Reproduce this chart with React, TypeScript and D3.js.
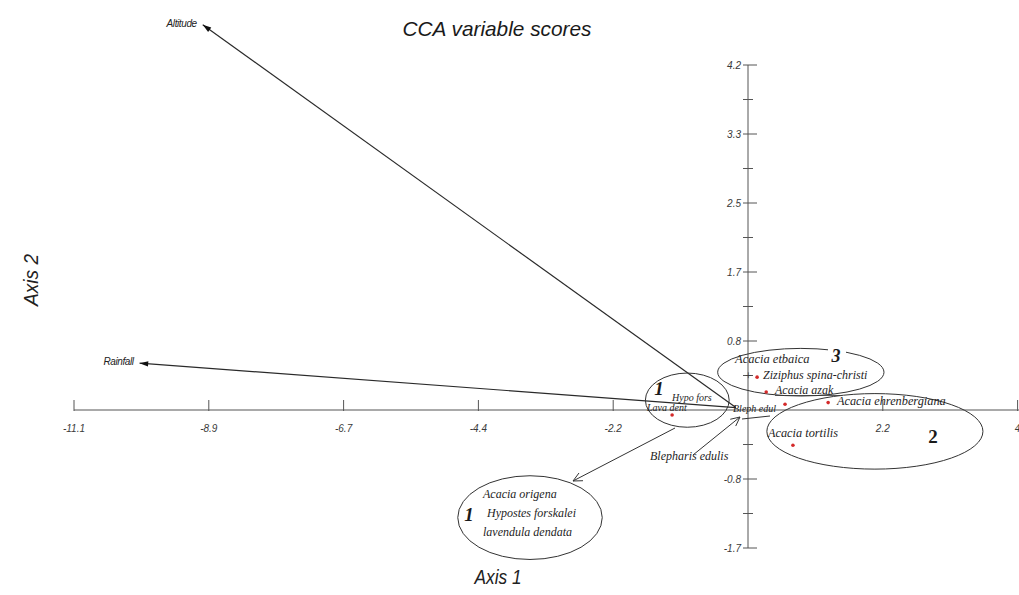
import React from "react";
import * as d3 from "d3";

const width = 1019;
const height = 595;

// axis ticks (labels are rounded as in the original output)
const xTickValues = [-11.1, -8.88, -6.66, -4.44, -2.22, 2.22, 4.44];
const xTickLabels = ["-11.1", "-8.9", "-6.7", "-4.4", "-2.2", "2.2", "4"];
const yTickValues = [4.2, 3.36, 2.52, 1.68, 0.84, -0.84, -1.68];
const yTickLabels = ["4.2", "3.3", "2.5", "1.7", "0.8", "-0.8", "-1.7"];
const yMinorTicks = [3.78, 2.94, 2.1, 1.26, 0.42, -0.42, -1.26];

// environmental variable arrows
const variables = ["Altitude", "Rainfall"];
const varX = [-8.98, -10.02];
const varY = [4.69, 0.57];

// species scores
const species = ["Lava dent", "Ziziphus spina-christi", "Acacia azak", "Acacia ehrenbergiana", "Acacia tortilis", "Bleph edul"];
const spX = [-1.25, 0.15, 0.3, 1.32, 0.74, 0.61];
const spY = [-0.06, 0.4, 0.22, 0.09, -0.43, 0.07];

// groups drawn round the species
const groups = ["1", "3", "2", "1"];
const groupCx = [-1.0, 0.87, 2.09, -3.59];
const groupCy = [0.12, 0.46, -0.26, -1.31];
const groupRx = [0.69, 1.37, 1.78, 1.19];
const groupRy = [0.33, 0.29, 0.46, 0.51];

const x = d3.scaleLinear().domain([-11.1, 4.44]).range([74, 1017.6]);
const y = d3.scaleLinear().domain([-1.68, 4.2]).range([548, 65]);

const sans = "'Liberation Sans', Arial, sans-serif";
const serif = "'Liberation Serif', 'Times New Roman', serif";
const axisCol = "#555";
const ink = "#2a2a2a";

function Arrow({ x1, y1, x2, y2, size = 9 }: any) {
  const a = Math.atan2(y2 - y1, x2 - x1);
  const p1 = [x2 - size * Math.cos(a - 0.3), y2 - size * Math.sin(a - 0.3)];
  const p2 = [x2 - size * Math.cos(a + 0.3), y2 - size * Math.sin(a + 0.3)];
  return (
    <g>
      <line x1={x1} y1={y1} x2={x2} y2={y2} stroke={ink} strokeWidth={1.2} />
      <path d={`M${x2},${y2}L${p1[0]},${p1[1]}L${p2[0]},${p2[1]}Z`} fill="#111" />
    </g>
  );
}

function OpenArrow({ x1, y1, x2, y2, size = 10 }: any) {
  const a = Math.atan2(y2 - y1, x2 - x1);
  const p1 = [x2 - size * Math.cos(a - 0.45), y2 - size * Math.sin(a - 0.45)];
  const p2 = [x2 - size * Math.cos(a + 0.45), y2 - size * Math.sin(a + 0.45)];
  return (
    <g stroke="#333" strokeWidth={1} fill="none">
      <line x1={x1} y1={y1} x2={x2} y2={y2} />
      <path d={`M${p1[0]},${p1[1]}L${x2},${y2}L${p2[0]},${p2[1]}`} />
    </g>
  );
}

export default function App() {
  const x0 = x(0);
  const y0 = y(0);
  const ox = x(-0.2);
  const oy = y(0.03);
  const spText = { fontFamily: serif, fontStyle: "italic", fill: "#1e1e1e" } as any;

  return (
    <svg width={width} height={height} style={{ position: "absolute", left: 0, top: 0, background: "#fff" }}>
      <text x={497} y={36} textAnchor="middle" fontFamily={sans} fontStyle="italic" fontSize={21}
        textLength={189} lengthAdjust="spacingAndGlyphs" fill="#1a1a1a">CCA variable scores</text>

      {/* x axis */}
      <line x1={x(-11.1)} x2={width} y1={y0} y2={y0} stroke={axisCol} strokeWidth={1} />
      {xTickValues.map((v, i) => (
        <g key={i}>
          <line x1={x(v)} x2={x(v)} y1={y0 - 10} y2={y0 + 1} stroke={axisCol} />
          <text x={x(v)} y={y0 + 22} textAnchor="middle" fontFamily={sans} fontStyle="italic" fontSize={10} fill="#3a3a3a">{xTickLabels[i]}</text>
        </g>
      ))}

      {/* y axis */}
      <line x1={x0} x2={x0} y1={y(4.2)} y2={y(-1.68)} stroke={axisCol} strokeWidth={1} />
      {yTickValues.map((v, i) => (
        <g key={i}>
          <line x1={x0 - 5} x2={x0 + 9} y1={y(v)} y2={y(v)} stroke={axisCol} />
          <text x={x0 - 7} y={y(v) + 4} textAnchor="end" fontFamily={sans} fontStyle="italic" fontSize={10} fill="#3a3a3a">{yTickLabels[i]}</text>
        </g>
      ))}
      {yMinorTicks.map((v, i) => (
        <line key={i} x1={x0 - 5} x2={x0 + 5} y1={y(v)} y2={y(v)} stroke={axisCol} />
      ))}

      <text x={498} y={584} textAnchor="middle" fontFamily={sans} fontStyle="italic" fontSize={20}
        textLength={47} lengthAdjust="spacingAndGlyphs" fill="#222">Axis 1</text>
      <text transform="translate(38,280) rotate(-90)" textAnchor="middle" fontFamily={sans} fontStyle="italic" fontSize={20}
        textLength={52} lengthAdjust="spacingAndGlyphs" fill="#222">Axis 2</text>

      {/* variable arrows */}
      {variables.map((v, i) => (
        <g key={v}>
          <Arrow x1={ox} y1={oy} x2={x(varX[i])} y2={y(varY[i])} />
          <text x={x(varX[i]) - 6} y={y(varY[i]) + 2} textAnchor="end" fontFamily={sans} fontStyle="italic" fontSize={10}
            letterSpacing={-0.4} fill="#222">{v}</text>
        </g>
      ))}

      {/* group ellipses */}
      {groups.map((g, i) => (
        <ellipse key={i} cx={x(groupCx[i])} cy={y(groupCy[i])} rx={groupRx[i] * 60.7} ry={groupRy[i] * 82.1}
          fill="none" stroke="#333" strokeWidth={1} />
      ))}
      <rect x={828} y={343} width={18} height={20} fill="#fff" />
      <text x={659} y={395} textAnchor="middle" fontFamily={serif} fontStyle="italic" fontWeight="bold" fontSize={19} fill="#1a1a1a">{groups[0]}</text>
      <text x={836} y={362} textAnchor="middle" fontFamily={serif} fontStyle="italic" fontWeight="bold" fontSize={18} fill="#1a1a1a">{groups[1]}</text>
      <text x={933} y={443} textAnchor="middle" fontFamily={serif} fontWeight="bold" fontSize={19} fill="#1a1a1a">{groups[2]}</text>
      <text x={469} y={521} textAnchor="middle" fontFamily={serif} fontStyle="italic" fontWeight="bold" fontSize={19} fill="#1a1a1a">{groups[3]}</text>

      {/* species points */}
      {species.map((s, i) => (
        <circle key={s} cx={x(spX[i])} cy={y(spY[i])} r={1.8} fill="#d42a2a" />
      ))}

      {/* species labels */}
      <text x={672} y={401} fontSize={10} {...spText}>Hypo fors</text>
      <text x={647} y={411} fontSize={10} {...spText}>{species[0]}</text>
      <text x={735} y={363} fontSize={12.5} {...spText}>Acacia etbaica</text>
      <text x={763} y={378.5} fontSize={12} {...spText}>{species[1]}</text>
      <text x={775} y={393.5} fontSize={12} {...spText}>{species[2]}</text>
      <line x1={775} x2={840} y1={395.5} y2={395.5} stroke="#333" strokeWidth={0.8} />
      <text x={837} y={405} fontSize={12.3} {...spText}>{species[3]}</text>
      <text x={768} y={437} fontSize={12.3} {...spText}>{species[4]}</text>
      <text x={733} y={412} fontSize={10} {...spText}>{species[5]}</text>
      <text x={650} y={460} fontSize={12} {...spText}>Blepharis edulis</text>
      <text x={745} y={380} fontSize={12} fill="#333" fontFamily={serif}>+</text>

      {/* group 1 contents */}
      <text x={483} y={498} fontSize={12} {...spText}>Acacia origena</text>
      <text x={487} y={517} fontSize={12} {...spText}>Hypostes forskalei</text>
      <text x={483} y={536} fontSize={12} {...spText}>lavendula dendata</text>

      <OpenArrow x1={675} y1={428} x2={573} y2={481} />
      <OpenArrow x1={693} y1={455} x2={740} y2={417} />
      <line x1={742} y1={419} x2={770} y2={416} stroke="#333" strokeWidth={1} />
    </svg>
  );
}
